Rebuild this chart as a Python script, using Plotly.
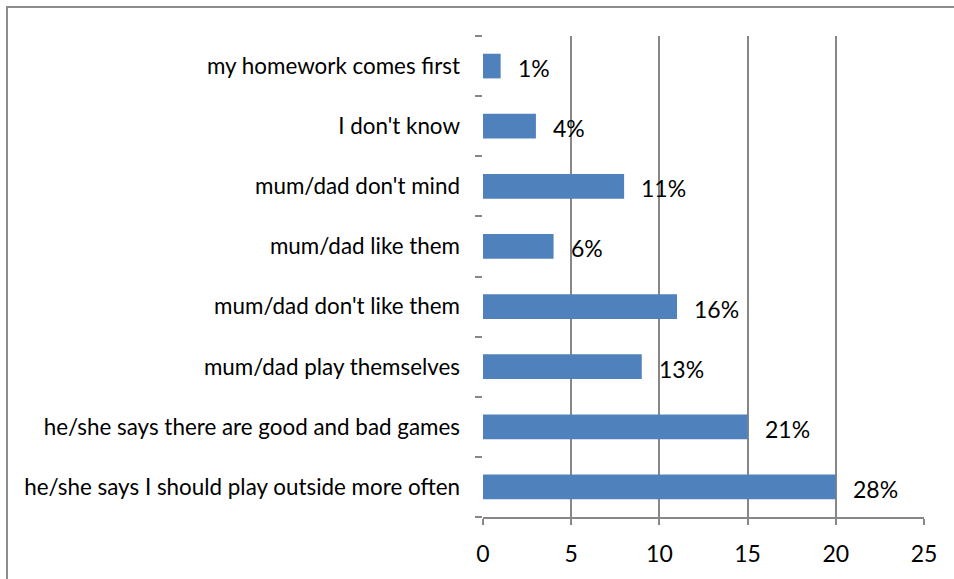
import plotly.graph_objects as go

# Reasons given (bottom to top on the chart)
reasons = [
    "he/she says I should play outside more often",
    "he/she says there are good and bad games",
    "mum/dad play themselves",
    "mum/dad don't like them",
    "mum/dad like them",
    "mum/dad don't mind",
    "I don't know",
    "my homework comes first",
]
# Number of answers per reason
counts = [20, 15, 9, 11, 4, 8, 3, 1]
# Share of answers shown next to each bar (%)
shares = [28, 21, 13, 16, 6, 11, 4, 1]

x_ticks = [0, 5, 10, 15, 20, 25]

FONT = "Lato, 'Open Sans', sans-serif"
GRID = "#878787"
BAR = "#4F81BD"

fig = go.Figure(
    go.Bar(
        x=counts,
        y=reasons,
        orientation="h",
        marker=dict(color=BAR, line=dict(width=0)),
        width=0.41,
        hoverinfo="skip",
    )
)

for reason, n, pct in zip(reasons, counts, shares):
    fig.add_annotation(
        x=n, y=reason, text=f"{pct}%",
        xanchor="left", yanchor="middle",
        xshift=15, yshift=-2,
        showarrow=False,
        font=dict(family=FONT, size=23, color="black"),
    )

fig.update_layout(
    width=954, height=579,
    margin=dict(l=483, r=30, t=36, b=62),
    paper_bgcolor="white",
    plot_bgcolor="white",
    showlegend=False,
    font=dict(family=FONT, size=22, color="black"),
    xaxis=dict(
        range=[0, 25],
        tickvals=x_ticks,
        showgrid=True, gridcolor=GRID, gridwidth=1.5,
        zeroline=True, zerolinecolor="rgba(0,0,0,0)",
        showline=True, linecolor=GRID, linewidth=1.5,
        ticks="outside", ticklen=6, tickcolor=GRID, tickwidth=1.5,
        ticklabelstandoff=10,
        tickfont=dict(family=FONT, size=23, color="black"),
        fixedrange=True,
    ),
    yaxis=dict(
        type="category",
        categoryorder="array", categoryarray=reasons,
        range=[-0.5, len(reasons) - 0.5],
        tickson="boundaries",
        showgrid=False, zeroline=False, showline=False,
        ticks="outside", ticklen=7, tickcolor=GRID, tickwidth=1.5,
        ticklabelstandoff=22,
        tickfont=dict(family=FONT, size=22.4, color="black"),
        fixedrange=True,
    ),
    shapes=[
        dict(
            type="rect", xref="paper", yref="paper",
            x0=-1.0794, x1=1.09, y0=-0.16, y1=1.0603,
            line=dict(color="#8c8c8c", width=2),
            fillcolor="rgba(0,0,0,0)", layer="below",
        )
    ],
)

fig.write_html("out.html", config={"displayModeBar": False})
